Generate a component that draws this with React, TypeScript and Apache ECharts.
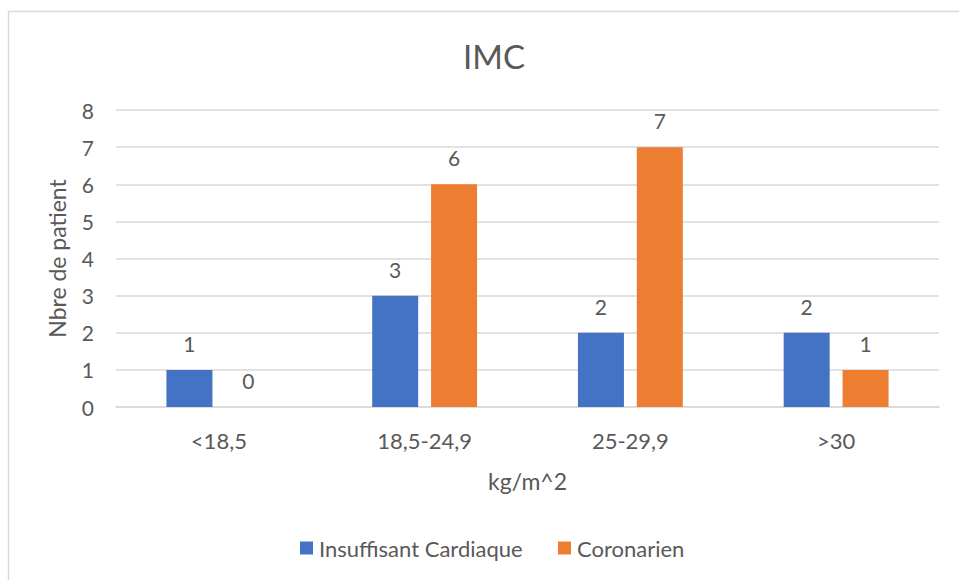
import React, { useEffect, useRef } from "react";
import * as echarts from "echarts";

const categories = ["<18,5", "18,5-24,9", "25-29,9", ">30"];
const insuffisantCardiaque = [1, 3, 2, 2];
const coronarien = [0, 6, 7, 1];
const seriesNames = ["Insuffisant Cardiaque", "Coronarien"];

const FONT = "Lato, 'Open Sans', sans-serif";
const TEXT = "#595959";

export default function App() {
  const ref = useRef<HTMLDivElement>(null);
  useEffect(() => {
    if (!ref.current) return;
    const chart = echarts.init(ref.current, undefined, { renderer: "svg" });
    chart.setOption({
      animation: false,
      backgroundColor: "#ffffff",
      textStyle: { fontFamily: FONT, color: TEXT },
      title: {
        text: "IMC",
        left: 489,
        textAlign: "center",
        top: 34,
        textStyle: { fontFamily: FONT, fontSize: 33, fontWeight: "normal", color: TEXT },
      },
      graphic: [
        {
          type: "rect",
          shape: { x: 8.5, y: 11.5, width: 1200, height: 1200 },
          style: { fill: "none", stroke: "#d9d9d9", lineWidth: 1.5 },
          silent: true,
        },
      ],
      legend: [
        {
          data: [seriesNames[0]],
          left: 300,
          top: 537,
          padding: 0,
          itemWidth: 13,
          itemHeight: 13,
          icon: "rect",
          textStyle: { fontFamily: FONT, fontSize: 22, color: TEXT, padding: [0, 0, 0, 1] },
        },
        {
          data: [seriesNames[1]],
          left: 558,
          top: 537,
          padding: 0,
          itemWidth: 13,
          itemHeight: 13,
          icon: "rect",
          textStyle: { fontFamily: FONT, fontSize: 22, color: TEXT, padding: [0, 0, 0, 1] },
        },
      ],
      grid: { left: 116, right: 20, top: 110, bottom: 173 },
      xAxis: {
        type: "category",
        data: categories,
        name: "kg/m^2",
        nameLocation: "middle",
        nameGap: 62,
        nameTextStyle: { fontFamily: FONT, fontSize: 23, color: TEXT },
        axisLine: { lineStyle: { color: "#d9d9d9", width: 1.5 } },
        axisTick: { show: false },
        axisLabel: { fontFamily: FONT, fontSize: 22, color: TEXT, margin: 22 },
      },
      yAxis: {
        type: "value",
        min: 0,
        max: 8,
        interval: 1,
        name: "Nbre de patient",
        nameLocation: "middle",
        nameGap: 48,
        nameRotate: 90,
        nameTextStyle: { fontFamily: FONT, fontSize: 23, color: TEXT },
        axisLine: { show: false },
        axisTick: { show: false },
        axisLabel: { fontFamily: FONT, fontSize: 21, color: TEXT, margin: 22 },
        splitLine: { lineStyle: { color: "#d9d9d9", width: 1.5 } },
      },
      series: [
        {
          name: seriesNames[0],
          type: "bar",
          data: insuffisantCardiaque,
          barWidth: 46,
          barGap: "28%",
          itemStyle: { color: "#4472C4" },
          label: { show: true, position: "top", distance: 16, fontFamily: FONT, fontSize: 21, color: TEXT },
        },
        {
          name: seriesNames[1],
          type: "bar",
          data: coronarien,
          barWidth: 46,
          barGap: "28%",
          itemStyle: { color: "#ED7D31" },
          label: { show: true, position: "top", distance: 16, fontFamily: FONT, fontSize: 21, color: TEXT },
        },
      ],
    });
    return () => chart.dispose();
  }, []);
  return (
    <div
      ref={ref}
      style={{ position: "fixed", left: 0, top: 0, width: 959, height: 580 }}
    />
  );
}
